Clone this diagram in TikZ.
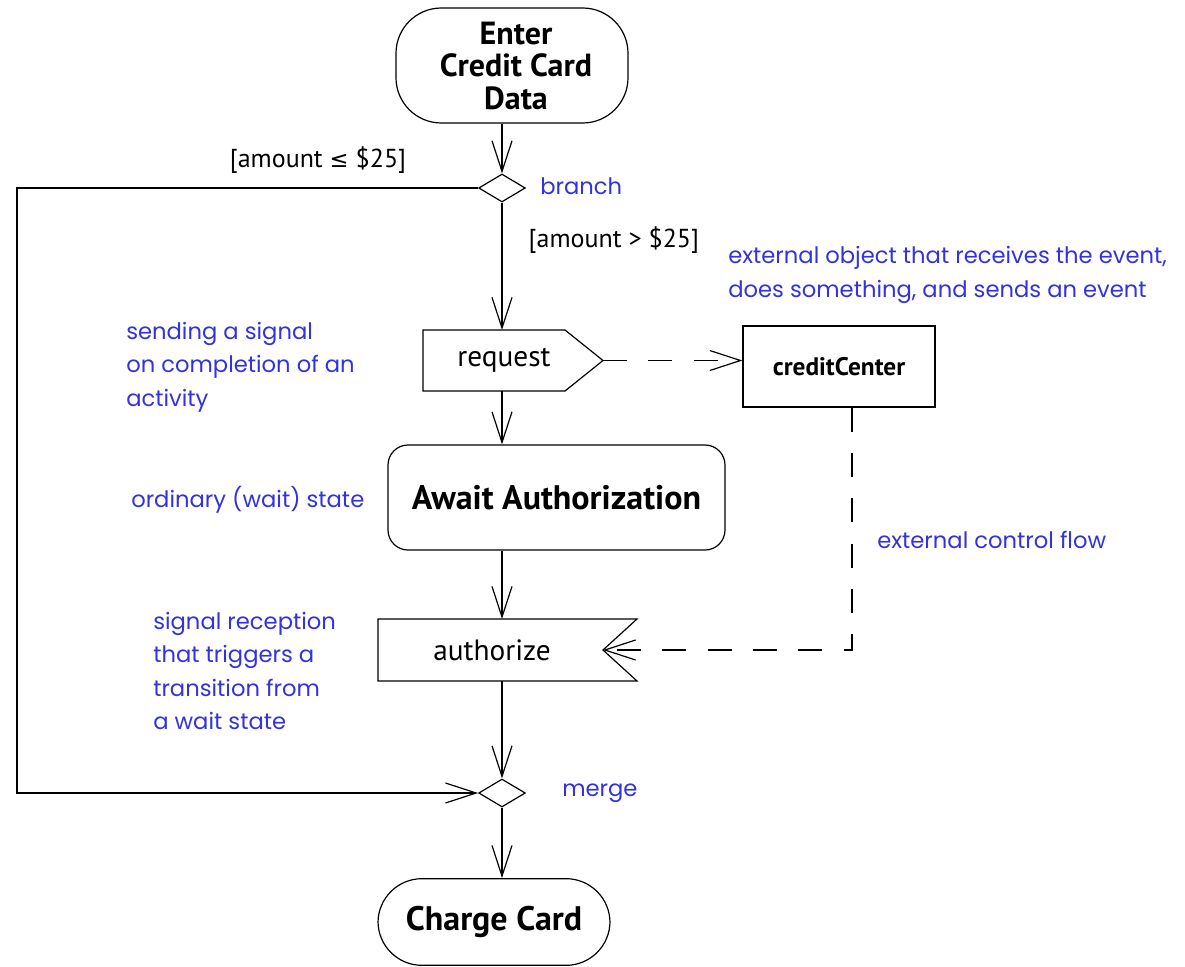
\documentclass[tikz,border=0pt]{standalone}
\usepackage{fontspec}
\setmainfont{PT Sans}
\newfontfamily\bluef{Poppins}
\newfontfamily\symf{DejaVu Sans}
\usetikzlibrary{arrows.meta,shapes.geometric}
\definecolor{noteblue}{RGB}{50,50,225}
\begin{document}
\begin{tikzpicture}[x=0.75pt,y=-0.75pt,
  line/.style={draw=black, line width=0.9pt},
  flow/.style={line, -{Straight Barb[length=23pt,width=15pt,line width=0.9pt]}},
  dflow/.style={flow, dash pattern=on 18pt off 16pt},
  act/.style={line, font=\fontsize{25.5}{26}\selectfont\bfseries, align=center, inner sep=0pt},
  dec/.style={line, diamond, minimum width=35pt, minimum height=21pt, inner sep=0pt},
  guard/.style={font=\fontsize{19.5}{24}\selectfont},
  note/.style={text=noteblue, font=\bluef\fontsize{17}{25}\selectfont, align=left, anchor=west, inner sep=0pt},
  plain/.style={font=\fontsize{22}{24}\selectfont, inner sep=0pt}
]
\useasboundingbox (0,0) rectangle (1185,967);
\fill[white] (0,0) rectangle (1185,967);

% activity nodes
\node[act, rounded corners=34pt, minimum width=174pt, minimum height=86.25pt] (enter) at (512,65.5) {};
\node[font=\fontsize{24}{24.5}\selectfont\bfseries, align=center, inner sep=0pt] (entertxt) at (516,66) {Enter\\Credit Card\\Data};
\node[dec] (branch) at (502,188) {};
\node[plain] (req) at (504,360) {request};
\coordinate (reqtip) at (603,360.5);
\coordinate (reqtop) at (502,330);
\coordinate (reqbot) at (502,391);
\draw[line] (423,330) -- (565,330) -- (reqtip) -- (565,391) -- (423,391) -- cycle;
\node[act, rounded corners=15pt, minimum width=252.75pt, minimum height=78.75pt] (await) at (556.5,497.5) {Await Authorization};
\node[act, font=\fontsize{19}{22}\selectfont\bfseries, minimum width=144pt, minimum height=60.75pt] (cc) at (839,366.5) {creditCenter};
\node[plain] (auth) at (492,650) {authorize};
\coordinate (authnotch) at (603,650);
\coordinate (authtop) at (502,619);
\coordinate (authbot) at (502,681);
\draw[line] (378,619) -- (637,619) -- (authnotch) -- (637,681) -- (378,681) -- cycle;
\node[dec] (merge) at (502,793) {};
\node[act, rounded corners=33pt, minimum width=174pt, minimum height=65pt] (charge) at (494,922) {Charge Card};
\coordinate (lcorner) at (17,500);

% connectors
\draw[flow] (enter.south -| branch.north) -- (branch.north);
\draw[flow] (branch.south) -- (reqtop);
\draw[flow] (reqbot) -- (reqbot |- await.north);
\draw[flow] (await.south -| authtop) -- (authtop);
\draw[flow] (authbot) -- (merge.north);
\draw[flow] (merge.south) -- (merge.south |- charge.north);
\draw[flow] (branch.west) -| (lcorner) |- (merge.west);
\draw[dflow] (reqtip) -- (reqtip -| cc.west);
\draw[dflow] ([xshift=9.75pt]cc.south) |- (authnotch);

% guards
\node[guard] (g1) at (318,160) {[amount {\symf\fontsize{17}{24}\selectfont ≤} \$25]};
\node[guard, anchor=west] (g2) at (524,240) {[amount > \$25]};

% notes
\node[note] (nbranch) at (540,186) {branch};
\node[note] (nmerge) at (562,793) {merge};
\node[note] (next) at (728,275) {external object that receives the event,\\does something, and sends an event};
\node[note] (nsend) at (126,367) {sending a signal\\on completion of an\\activity};
\node[note] (nwait) at (131,500) {ordinary (wait) state};
\node[note] (nflow) at (877,540) {external control flow};
\node[note] (nrecv) at (153,671) {signal reception\\that triggers a\\transition from\\a wait state};
\end{tikzpicture}
\end{document}
